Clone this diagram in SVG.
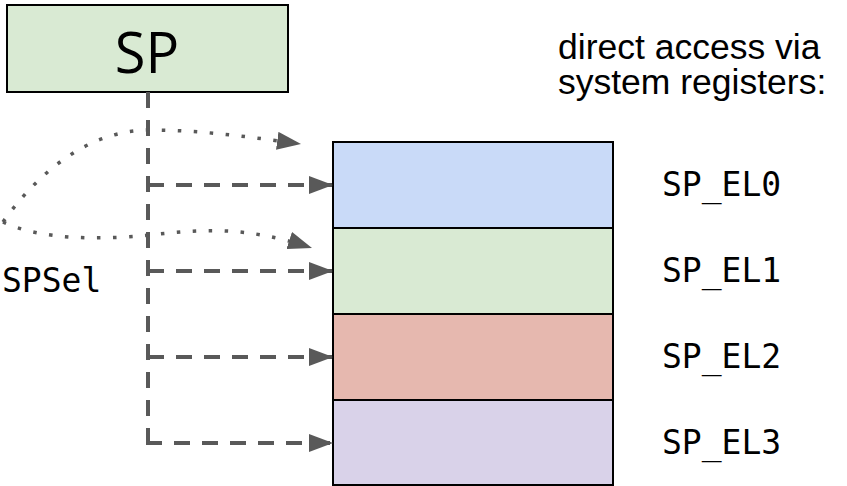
<svg xmlns="http://www.w3.org/2000/svg" width="847" height="486" viewBox="0 0 847 486">
<style>
.box{stroke:#000;stroke-width:2}
.dash{fill:none;stroke:#595959;stroke-width:4;stroke-dasharray:16 12}
.dot{fill:none;stroke:#595959;stroke-width:3.5;stroke-dasharray:3.5 12.5}
.mono{font-family:"DejaVu Sans Mono",monospace;font-size:33px;fill:#000}
.sans{font-family:"Liberation Sans",Arial,sans-serif;font-size:35.5px;fill:#000}
</style>
<defs>
<marker id="ah" markerUnits="userSpaceOnUse" viewBox="0 0 24 18" refX="24" refY="9" markerWidth="24" markerHeight="18" orient="auto">
<polygon points="0,0 24,9 0,18" fill="#595959"/>
</marker>
</defs>
<rect width="847" height="486" fill="#fff"/>
<g id="sp">
<rect class="box" x="7" y="5" width="281" height="87" fill="#d9ead3"/>
<text x="147" y="73" text-anchor="middle" font-family="Open Sans, sans-serif" font-size="56">SP</text>
</g>
<g id="sp_el0">
<rect class="box" x="333" y="142" width="280" height="86" fill="#c9daf8"/>
<text class="mono" x="662" y="196">SP_EL0</text>
</g>
<g id="sp_el1">
<rect class="box" x="333" y="228" width="280" height="86" fill="#d9ead3"/>
<text class="mono" x="662" y="282">SP_EL1</text>
</g>
<g id="sp_el2">
<rect class="box" x="333" y="314" width="280" height="86" fill="#e6b8af"/>
<text class="mono" x="662" y="368">SP_EL2</text>
</g>
<g id="sp_el3">
<rect class="box" x="333" y="400" width="280" height="85" fill="#d9d2e9"/>
<text class="mono" x="662" y="454">SP_EL3</text>
</g>
<g id="spsel">
<text class="mono" x="2" y="292">SPSel</text>
</g>
<g id="note">
<text class="sans" x="558" y="59">direct access via</text>
<text class="sans" x="558" y="94">system registers:</text>
</g>
<g id="connectors">
<path class="dash" d="M148,92 V445"/>
<path class="dash" d="M148,185 H333" marker-end="url(#ah)"/>
<path class="dash" d="M148,271 H333" marker-end="url(#ah)"/>
<path class="dash" d="M148,357 H333" marker-end="url(#ah)"/>
<path class="dash" d="M146,443 H333" marker-end="url(#ah)"/>
<path class="dot" d="M3,222 C40,170 90,130 150,130 C200,130 250,137 301,144" marker-end="url(#ah)"/>
<path class="dot" d="M3,222 C40,240 100,240 150,235 C205,229 245,226 312,248" marker-end="url(#ah)"/>
</g>
</svg>
